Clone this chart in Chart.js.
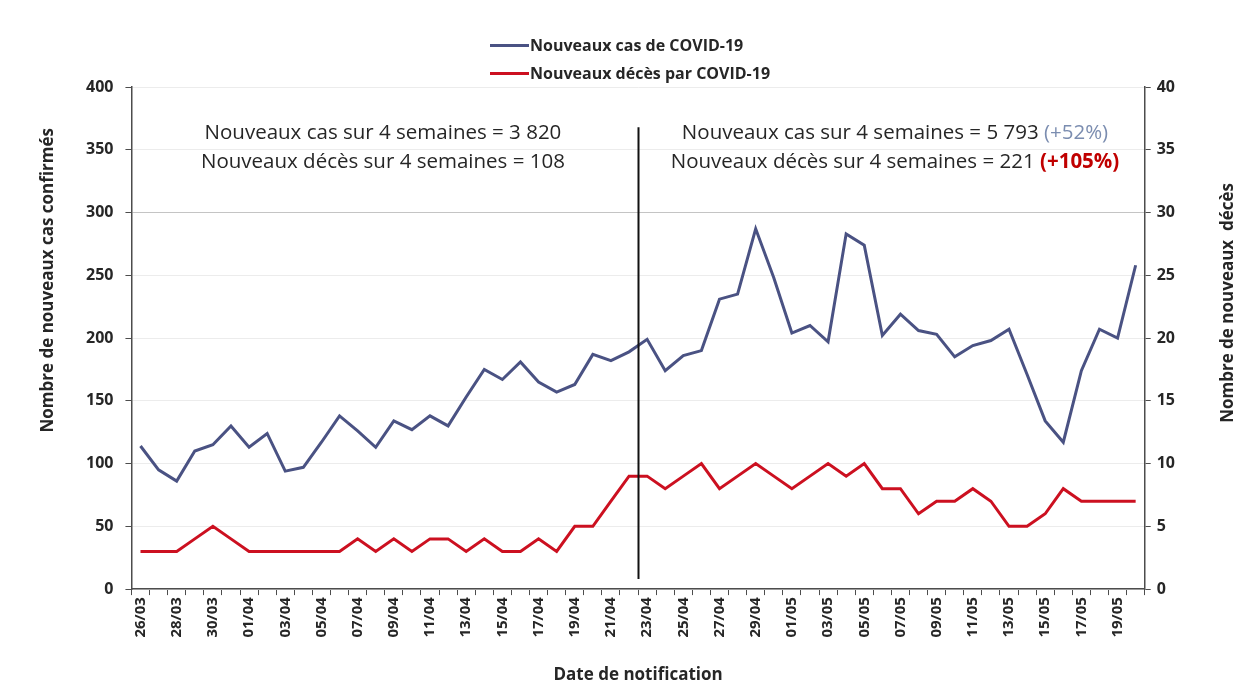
<!DOCTYPE html>
<html lang="fr">
<head>
<meta charset="utf-8">
<script src="https://cdn.jsdelivr.net/npm/chart.js@4.4.1/dist/chart.umd.min.js"></script>
<style>
  html, body { margin: 0; padding: 0; background: #fff; }
  #wrap { position: relative; width: 1244px; height: 690px; }
  #legend { position: absolute; top: 31px; left: 490px; font: bold 16px "Open Sans", sans-serif; color: #262626; }
  #legend .row { display: flex; align-items: center; height: 28px; }
  #legend .sw { width: 39px; height: 3px; margin-right: 1px; }
</style>
</head>
<body>
<div id="wrap">
  <canvas id="covid-chart" width="1244" height="690"></canvas>
  <div id="legend"></div>
</div>
<script>
const dates = ['26/03', '27/03', '28/03', '29/03', '30/03', '31/03',
  '01/04', '02/04', '03/04', '04/04', '05/04', '06/04', '07/04', '08/04', '09/04', '10/04',
  '11/04', '12/04', '13/04', '14/04', '15/04', '16/04', '17/04', '18/04', '19/04', '20/04',
  '21/04', '22/04', '23/04', '24/04', '25/04', '26/04', '27/04', '28/04', '29/04', '30/04',
  '01/05', '02/05', '03/05', '04/05', '05/05', '06/05', '07/05', '08/05', '09/05', '10/05',
  '11/05', '12/05', '13/05', '14/05', '15/05', '16/05', '17/05', '18/05', '19/05', '20/05'];

const cases = [114, 95, 86, 110, 115, 130, 113, 124, 94, 97, 117, 138, 126, 113,
  134, 127, 138, 130, 153, 175, 167, 181, 165, 157, 163, 187, 182, 189,
  199, 174, 186, 190, 231, 235, 287, 248, 204, 210, 197, 283, 274, 202,
  219, 206, 203, 185, 194, 198, 207, 171, 134, 117, 174, 207, 200, 258];

const deaths = [3, 3, 3, 4, 5, 4, 3, 3, 3, 3, 3, 3, 4, 3,
  4, 3, 4, 4, 3, 4, 3, 3, 4, 3, 5, 5, 7, 9,
  9, 8, 9, 10, 8, 9, 10, 9, 8, 9, 10, 9, 10, 8,
  8, 6, 7, 7, 8, 7, 5, 5, 6, 8, 7, 7, 7, 7];

const casesTicks = [0, 50, 100, 150, 200, 250, 300, 350, 400];
const deathsTicks = [0, 5, 10, 15, 20, 25, 30, 35, 40];

// two 4-week periods, split between 22/04 and 23/04
const periodLength = 28;

const FONT = '"Open Sans", sans-serif';
const TEXT = '#262626';
const AXIS = '#4d4d4d';
const BLUE = '#4a5283';
const RED = '#cc1020';

const sum = (arr) => arr.reduce((a, b) => a + b, 0);
const fmt = (n) => String(n).replace(/\B(?=(\d{3})+(?!\d))/g, ' ');

const casesA = sum(cases.slice(0, periodLength));
const casesB = sum(cases.slice(periodLength));
const deathsA = sum(deaths.slice(0, periodLength));
const deathsB = sum(deaths.slice(periodLength));
const pct = (b, a) => '(+' + Math.round((b / a - 1) * 100) + '%)';

const notes = [
  { at: 13.4, lines: [
    ['Nouveaux cas sur 4 semaines = ' + fmt(casesA)],
    ['Nouveaux décès sur 4 semaines = ' + fmt(deathsA)]
  ] },
  { at: 41.7, lines: [
    ['Nouveaux cas sur 4 semaines = ' + fmt(casesB) + ' ', pct(casesB, casesA), '#7b8db0', 'normal'],
    ['Nouveaux décès sur 4 semaines = ' + fmt(deathsB) + ' ', pct(deathsB, deathsA), '#c00000', 'bold']
  ] }
];

// vertical axis titles, both reading bottom to top
const axisTitles = [
  { text: 'Nombre de nouveaux cas confirmés', x: 48, at: 246 },
  { text: 'Nombre de nouveaux  décès', x: 1228, at: 228 }
];

// separator line, period totals and axis titles
const periodNotes = {
  id: 'periodNotes',
  afterDatasetsDraw(chart) {
    const { ctx, scales: { x, y } } = chart;
    ctx.save();
    const sx = Math.round(x.getPixelForValue(periodLength - 0.5)) + 0.5;
    ctx.strokeStyle = '#111';
    ctx.lineWidth = 2;
    ctx.beginPath();
    ctx.moveTo(sx, y.getPixelForValue(368));
    ctx.lineTo(sx, y.getPixelForValue(8));
    ctx.stroke();

    ctx.textBaseline = 'middle';
    ctx.textAlign = 'left';
    const rowValues = [363, 340];
    const size = '20.5px ';
    notes.forEach((note) => {
      const cx = x.getPixelForValue(note.at);
      note.lines.forEach((line, i) => {
        const cy = y.getPixelForValue(rowValues[i]);
        ctx.font = size + FONT;
        const w1 = ctx.measureText(line[0]).width;
        let w2 = 0;
        if (line[1]) {
          ctx.font = line[3] + ' ' + size + FONT;
          w2 = ctx.measureText(line[1]).width;
        }
        const left = cx - (w1 + w2) / 2;
        ctx.font = size + FONT;
        ctx.fillStyle = TEXT;
        ctx.fillText(line[0], left, cy);
        if (line[1]) {
          ctx.font = line[3] + ' ' + size + FONT;
          ctx.fillStyle = line[2];
          ctx.fillText(line[1], left + w1, cy);
        }
      });
    });

    ctx.font = 'bold 17px ' + FONT;
    ctx.fillStyle = TEXT;
    ctx.textAlign = 'center';
    axisTitles.forEach((t) => {
      ctx.save();
      ctx.translate(t.x, y.getPixelForValue(t.at));
      ctx.rotate(-Math.PI / 2);
      ctx.fillText(t.text, 0, 0);
      ctx.restore();
    });
    ctx.restore();
  }
};

const chart = new Chart(document.getElementById('covid-chart'), {
  type: 'line',
  data: {
    labels: dates,
    datasets: [
      {
        label: 'Nouveaux cas de COVID-19',
        data: cases,
        yAxisID: 'y',
        borderColor: BLUE,
        borderWidth: 3,
        pointRadius: 0,
        tension: 0
      },
      {
        label: 'Nouveaux décès par COVID-19',
        data: deaths,
        yAxisID: 'y1',
        borderColor: RED,
        borderWidth: 3,
        pointRadius: 0,
        tension: 0
      }
    ]
  },
  options: {
    responsive: false,
    animation: false,
    layout: { padding: { top: 87, left: 74, right: 63, bottom: 1 } },
    plugins: {
      legend: { display: false },
      tooltip: { enabled: false }
    },
    scales: {
      x: {
        offset: true,
        border: { color: AXIS, width: 1.5 },
        grid: { drawOnChartArea: false, tickColor: AXIS, tickLength: 6, offset: true },
        ticks: {
          autoSkip: false,
          minRotation: 90,
          maxRotation: 90,
          color: TEXT,
          padding: 2,
          font: { family: FONT, size: 15, weight: 'bold' },
          callback: (v, i) => (i % 2 === 0 ? dates[i] : '')
        },
        title: {
          display: true,
          text: 'Date de notification',
          color: TEXT,
          padding: { top: 25 },
          font: { family: FONT, size: 17, weight: 'bold' }
        }
      },
      y: {
        position: 'left',
        min: 0,
        max: casesTicks[casesTicks.length - 1],
        afterBuildTicks: (s) => { s.ticks = casesTicks.map((v) => ({ value: v })); },
        border: { color: AXIS, width: 1.5 },
        grid: {
          color: (c) => (c.tick && c.tick.value === 300 ? '#c4c4c4' : '#ececec'),
          tickColor: AXIS,
          tickLength: 6
        },
        ticks: { color: TEXT, padding: 12, font: { family: FONT, size: 16, weight: 'bold' } }
      },
      y1: {
        position: 'right',
        min: 0,
        max: deathsTicks[deathsTicks.length - 1],
        afterBuildTicks: (s) => { s.ticks = deathsTicks.map((v) => ({ value: v })); },
        border: { color: AXIS, width: 1.5 },
        grid: { drawOnChartArea: false, tickColor: AXIS, tickLength: 6 },
        ticks: { color: TEXT, padding: 6, font: { family: FONT, size: 16, weight: 'bold' } }
      }
    }
  },
  plugins: [periodNotes]
});

// legend stacked in two rows
const legendEl = document.getElementById('legend');
chart.data.datasets.forEach((ds) => {
  const row = document.createElement('div');
  row.className = 'row';
  const sw = document.createElement('span');
  sw.className = 'sw';
  sw.style.background = ds.borderColor;
  const txt = document.createElement('span');
  txt.textContent = ds.label;
  row.appendChild(sw);
  row.appendChild(txt);
  legendEl.appendChild(row);
});
</script>
</body>
</html>
